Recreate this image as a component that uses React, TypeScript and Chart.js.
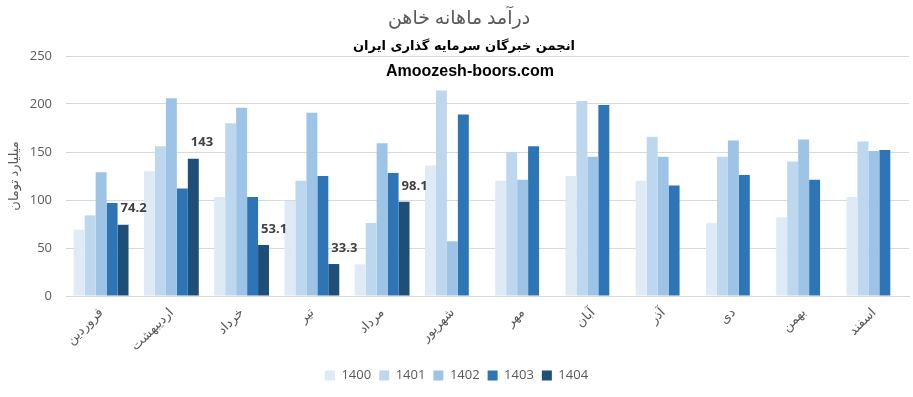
import React, { useEffect, useRef } from "react";
import { Chart, registerables } from "chart.js";

Chart.register(...registerables);

const categories = ["فروردین", "اردیبهشت", "خرداد", "تیر", "مرداد", "شهریور", "مهر", "آبان", "آذر", "دی", "بهمن", "اسفند"];
const seriesNames = ["1400", "1401", "1402", "1403", "1404"];
const s1400 = [69, 130, 103, 99, 33, 136, 120, 125, 120, 76, 82, 103];
const s1401 = [84, 156, 180, 120, 76, 214, 150, 203, 166, 145, 140, 161];
const s1402 = [129, 206, 196, 191, 159, 57, 121, 145, 145, 162, 163, 151];
const s1403 = [97, 112, 103, 125, 128, 189, 156, 199, 115, 126, 121, 152];
const s1404 = [74.2, 143, 53.1, 33.3, 98.1, null, null, null, null, null, null, null];
const yTicks = [0, 50, 100, 150, 200, 250];

const titleText = "درآمد ماهانه خاهن";
const subtitle1 = "انجمن خبرگان سرمایه گذاری ایران";
const subtitle2 = "Amoozesh-boors.com";
const yAxisTitle = "میلیارد تومان";

const colors = ["#DEEAF6", "#BDD7EE", "#9DC3E6", "#2E75B6", "#1F4E79"];
const FONT = "'Open Sans', 'DejaVu Sans', sans-serif";

export default function App() {
  const ref = useRef<HTMLCanvasElement | null>(null);
  useEffect(() => {
    if (!ref.current) return;
    const allSeries = [s1400, s1401, s1402, s1403, s1404];
    const textPlugin = {
      id: "textOverlay",
      afterDraw(chart: any) {
        const ctx = chart.ctx;
        ctx.save();
        ctx.textAlign = "center";
        ctx.textBaseline = "middle";
        ctx.fillStyle = "#595959";
        ctx.font = `19px ${FONT}`;
        ctx.fillText(titleText, 459, 19);
        ctx.fillStyle = "#000000";
        ctx.font = `bold 13px 'DejaVu Sans', sans-serif`;
        ctx.fillText(subtitle1, 464, 47);
        ctx.font = `bold 16px 'Liberation Sans', Arial, sans-serif`;
        ctx.fillText(subtitle2, 470, 72);
        ctx.restore();
      },
      afterDatasetsDraw(chart: any) {
        const ctx = chart.ctx;
        const meta = chart.getDatasetMeta(4);
        ctx.save();
        ctx.font = `bold 13px ${FONT}`;
        ctx.fillStyle = "#404040";
        ctx.textAlign = "left";
        ctx.textBaseline = "middle";
        meta.data.forEach((el: any, i: number) => {
          const v = s1404[i];
          if (v === null || v === undefined) return;
          const p = el.getProps(["x", "y", "width"], true);
          ctx.fillText(String(v), p.x - p.width / 2 + 3, p.y - 16);
        });
        ctx.restore();
      },
    };
    const chart = new Chart(ref.current, {
      type: "bar",
      data: {
        labels: categories,
        datasets: allSeries.map((d, i) => ({
          label: seriesNames[i],
          data: d,
          backgroundColor: colors[i],
          borderWidth: 0,
          categoryPercentage: 0.78,
          barPercentage: 1,
        })),
      },
      options: {
        animation: false,
        responsive: false,
        maintainAspectRatio: false,
        layout: { padding: { top: 56, left: 4, right: 4, bottom: 5 } },
        plugins: {
          tooltip: { enabled: false },
          title: { display: false },
          legend: {
            position: "bottom",
            labels: {
              boxWidth: 10,
              boxHeight: 10,
              padding: 8,
              color: "#595959",
              font: { family: FONT, size: 13 },
            },
          },
        },
        scales: {
          x: {
            grid: { display: false, drawTicks: false },
            border: { display: true, color: "#D9D9D9", width: 1 },
            ticks: {
              autoSkip: false,
              minRotation: 45,
              maxRotation: 45,
              color: "#595959",
              padding: 9,
              font: { family: FONT, size: 13 },
            },
            afterFit(scale: any) {
              scale.height = 65;
            },
          },
          y: {
            min: 0,
            max: 250,
            afterBuildTicks(scale: any) {
              scale.ticks = yTicks.map((v) => ({ value: v }));
            },
            grid: { color: "#D9D9D9", lineWidth: 1, drawTicks: false },
            border: { display: false },
            ticks: {
              color: "#595959",
              padding: 14,
              font: { family: FONT, size: 13 },
            },
            title: {
              display: true,
              text: yAxisTitle,
              color: "#595959",
              font: { family: FONT, size: 13 },
              padding: { top: 2, bottom: 0 },
            },
            afterFit(scale: any) {
              scale.width = 62;
            },
          },
        },
      },
      plugins: [textPlugin],
    });
    return () => chart.destroy();
  }, []);
  return (
    <div style={{ position: "fixed", left: 0, top: 0, width: 913, height: 397, background: "#fff" }}>
      <canvas ref={ref} width={913} height={397} style={{ width: 913, height: 397 }} />
    </div>
  );
}
